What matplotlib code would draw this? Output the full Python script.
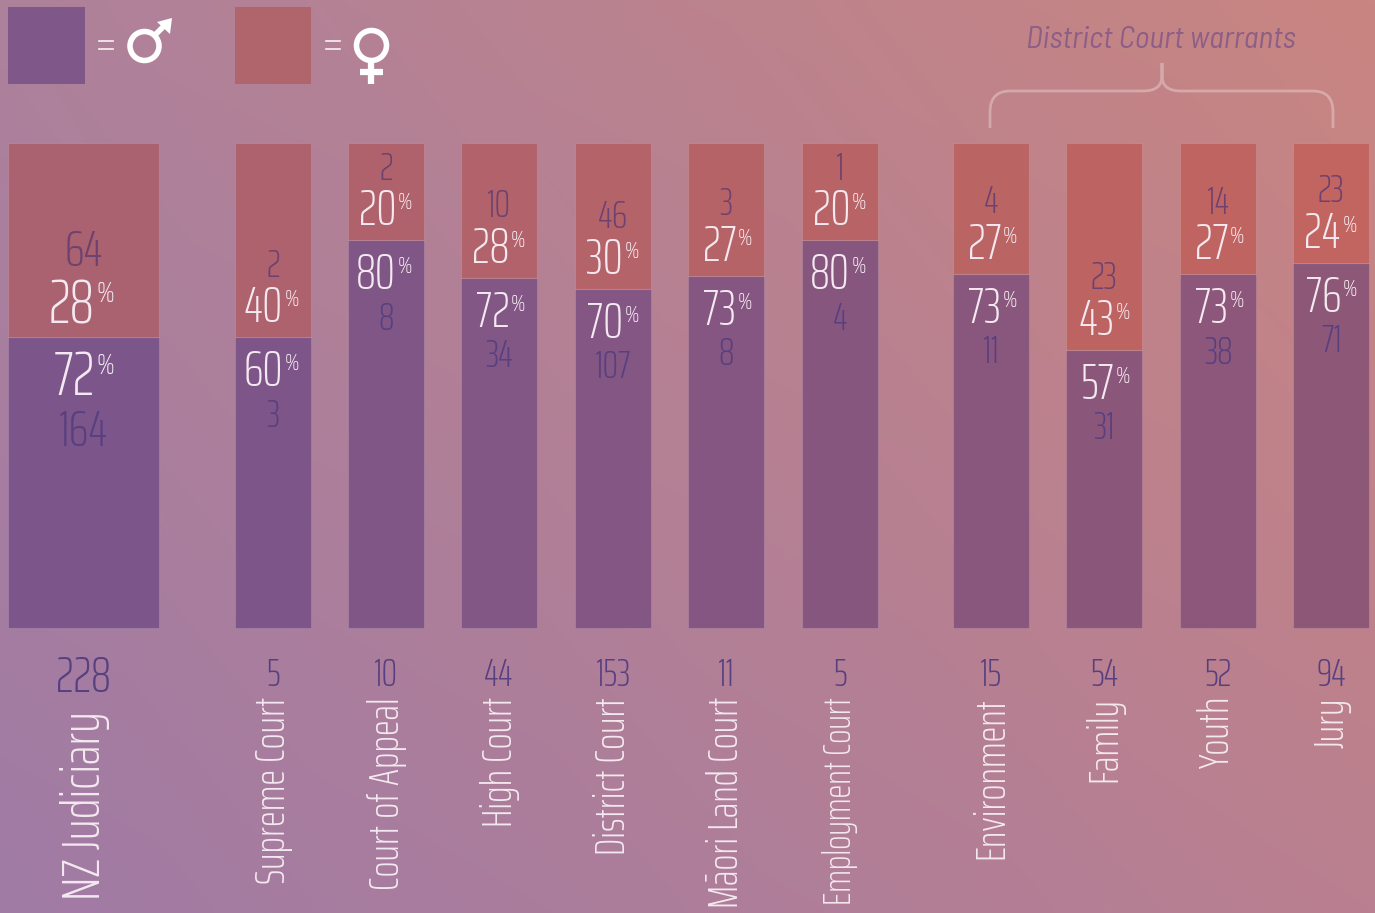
import numpy as np
import matplotlib
matplotlib.use("Agg")
import matplotlib.pyplot as plt
from matplotlib.patches import Circle, PathPatch, Rectangle
from matplotlib.path import Path

courts = ["NZ Judiciary", "Supreme Court", "Court of Appeal", "High Court", "District Court",
          "Māori Land Court", "Employment Court", "Environment", "Family", "Youth", "Jury"]
totals = [228, 5, 10, 44, 153, 11, 5, 15, 54, 52, 94]
men = [164, 3, 8, 34, 107, 8, 4, 11, 31, 38, 71]
women = [64, 2, 2, 10, 46, 3, 1, 4, 23, 14, 23]
men_pct = [72, 60, 80, 72, 70, 73, 80, 73, 57, 73, 76]
women_pct = [28, 40, 20, 28, 30, 27, 20, 27, 43, 27, 24]
# the first bar is drawn at 60/40 in the picture, whatever its label says
men_drawn = [60, 60, 80, 72.3, 70, 72.7, 80, 73.1, 57.4, 73, 75.4]

lefts = [8.5, 235.5, 348.5, 461.5, 575.5, 688.5, 802.5, 953.5, 1066.5, 1180.5, 1293.5]
widths = [150.5] + [75.5] * 10
label_x = [85, 273, 387, 500, 613, 726, 840, 991, 1104, 1217, 1332]
label_size = [39, 30.5, 30.5, 30.5, 30.5, 30.5, 27, 30.5, 30.5, 30.5, 30.5]

FONT = ["Saira ExtraCondensed", "Barlow Condensed", "Roboto Condensed", "DejaVu Sans"]
FONT_PCT = ["Saira Condensed", "Barlow Condensed", "Roboto Condensed", "DejaVu Sans"]
ITALIC = ["Barlow Semi Condensed", "Roboto Condensed", "DejaVu Sans"]
WHITE = "#f4e9f0"
DARK = "#573f80"
DARK_F = "#6d4170"

TOP, BASE = 143.5, 628
H = BASE - TOP

corners = np.array([[[0xae, 0x81, 0x9b], [0xc9, 0x85, 0x81]],
                    [[0xa0, 0x7b, 0xa5], [0xba, 0x80, 0x90]]]) / 255


def bg_at(x, y):
    u, v = x / 1375, y / 913
    top = corners[0, 0] * (1 - u) + corners[0, 1] * u
    bot = corners[1, 0] * (1 - u) + corners[1, 1] * u
    return top * (1 - v) + bot * v


fig = plt.figure(figsize=(13.75, 9.13), dpi=100)
ax = fig.add_axes([0, 0, 1, 1])
gx, gy = np.meshgrid(np.linspace(0, 1375, 160), np.linspace(0, 913, 110))
ax.imshow(bg_at(gx[..., None], gy[..., None]), extent=(0, 1375, 913, 0),
          interpolation="bilinear", aspect="auto")
ax.set_xlim(0, 1375)
ax.set_ylim(913, 0)
ax.axis("off")

for i, name in enumerate(courts):
    x, w = lefts[i], widths[i]
    cx = x + w / 2
    split = BASE - H * men_drawn[i] / 100
    m_col = np.clip(bg_at(cx, 400) * [0.73, 0.67, 0.88], 0, 1)
    f_col = np.clip(bg_at(cx, 150) * [0.98, 0.76, 0.72], 0, 1)
    edge = (1, 1, 1, 0.12)
    ax.bar(cx, -(BASE - split), bottom=BASE, width=w, color=m_col, edgecolor=edge, linewidth=0.8)
    ax.bar(cx, -(split - TOP), bottom=split, width=w, color=f_col, edgecolor=edge, linewidth=0.8)

    big = i == 0
    shift = 5 if big else 3.5
    off_in, off_out = (36, 90) if big else (32, 75)
    pct_size = 44 if big else 36
    cnt_size = 36 if big else 28
    sup_size = 21 if big else 17
    sup_dy = 12 if big else 9
    gap = 11 if big else 10

    for pct, y in ((women_pct[i], split - off_in + shift), (men_pct[i], split + off_in + shift)):
        ax.text(cx + gap, y, str(pct), color=WHITE, fontsize=pct_size, family=FONT, fontweight=275,
                ha="right", va="center")
        ax.text(cx + gap + 2, y - sup_dy, "%", color=WHITE, fontsize=sup_size, family=FONT_PCT, fontweight=275,
                ha="left", va="center")
    ax.text(cx, split - off_out + shift, str(women[i]), color=DARK_F, fontsize=cnt_size, family=FONT, fontweight=275,
            ha="center", va="center")
    ax.text(cx, split + off_out + shift, str(men[i]), color=DARK, fontsize=cnt_size, family=FONT, fontweight=275,
            ha="center", va="center")

    ax.text(cx, 679 if big else 675, str(totals[i]), color=DARK, fontsize=36 if big else 28,
            family=FONT, fontweight=275, ha="center", va="center")
    ax.text(label_x[i], 711 if big else 697, name, color=WHITE, fontsize=label_size[i],
            family=FONT, fontweight=275, rotation=90, ha="center", va="top", clip_on=True)

# legend
ax.add_patch(Rectangle((8, 7), 77, 77, color="#7f5788", lw=0))
ax.add_patch(Rectangle((235, 7), 76, 77, color="#b0646b", lw=0))
for x0 in (99, 326):
    for y0 in (41.5, 49):
        ax.plot([x0, x0 + 14], [y0, y0], color="white", lw=1.2, alpha=0.9)

ax.add_patch(Circle((144.5, 46), 14.5, fill=False, edgecolor="white", lw=4))
ax.plot([155, 168], [35, 22], color="white", lw=4, solid_capstyle="butt")
ax.fill([157, 172, 170], [22, 18, 34], color="white", lw=0)

ax.add_patch(Circle((371.5, 45.5), 15, fill=False, edgecolor="white", lw=4))
ax.plot([371.5, 371.5], [62, 84], color="white", lw=4.5, solid_capstyle="butt")
ax.plot([360, 383], [72, 72], color="white", lw=4.5, solid_capstyle="butt")

# brace over the warrants
verts = [(990, 128), (990, 112), (990, 91), (1010, 91), (1143, 91), (1162, 91), (1162, 76),
         (1162, 63), (1162, 76), (1162, 91), (1181, 91), (1313, 91), (1333, 91), (1333, 112), (1333, 128)]
codes = [Path.MOVETO, Path.LINETO, Path.CURVE3, Path.CURVE3, Path.LINETO, Path.CURVE3, Path.CURVE3,
         Path.LINETO, Path.LINETO, Path.CURVE3, Path.CURVE3, Path.LINETO, Path.CURVE3, Path.CURVE3, Path.LINETO]
ax.add_patch(PathPatch(Path(verts, codes), fill=False, edgecolor=(1, 1, 1, 0.3), lw=2))
ax.text(1161, 40, "District Court warrants", color="#8d5e86", fontsize=22.5, style="italic",
        family=ITALIC, ha="center", va="center")

fig.savefig("out.png", dpi=100)
